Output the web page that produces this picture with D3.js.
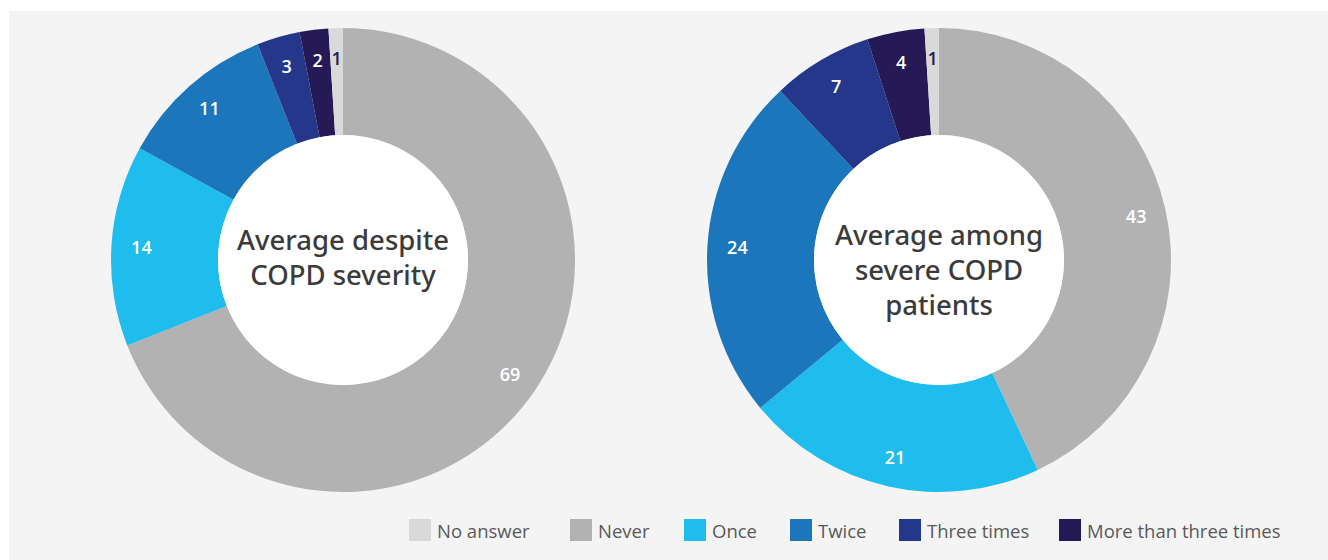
<!DOCTYPE html>
<html>
<head>
<meta charset="utf-8">
<script src="https://cdn.jsdelivr.net/npm/d3@7"></script>
<style>
  html, body { margin: 0; padding: 0; background: #ffffff; }
  svg { display: block; }
</style>
</head>
<body>
<svg id="chart" width="1328" height="560"></svg>
<script>
// ---- data ----
const categories = ["Never", "Once", "Twice", "Three times", "More than three times", "No answer"];
const legendOrder = ["No answer", "Never", "Once", "Twice", "Three times", "More than three times"];
const colors = ["#b2b2b2", "#1fbcee", "#1c76bb", "#24378a", "#261a56", "#d9d9d9"];
const averageAll = [69, 14, 11, 3, 2, 1];
const averageSevere = [43, 21, 24, 7, 4, 1];
const titleAll = ["Average despite", "COPD severity"];
const titleSevere = ["Average among", "severe COPD", "patients"];

const svg = d3.select("#chart");
svg.append("rect").attr("x", 9).attr("y", 11).attr("width", 1328 - 9).attr("height", 560 - 11)
  .attr("fill", "#f4f4f4");

const color = d3.scaleOrdinal().domain(categories).range(colors);
const outerR = 232, innerR = 125, labelR = 202;
const pie = d3.pie().sort(null).value(d => d.value);
const arc = d3.arc().innerRadius(innerR).outerRadius(outerR);
const labelArc = d3.arc().innerRadius(labelR).outerRadius(labelR);

function donut(cx, cy, values, title, titleY0) {
  const g = svg.append("g").attr("transform", `translate(${cx},${cy})`);
  const data = pie(categories.map((c, i) => ({ cat: c, value: values[i] })));
  g.selectAll("path.slice").data(data).join("path")
    .attr("class", "slice")
    .attr("d", arc)
    .attr("fill", d => color(d.data.cat));
  g.append("circle").attr("r", innerR).attr("fill", "#ffffff");
  g.selectAll("text.val").data(data).join("text")
    .attr("class", "val")
    .attr("transform", d => `translate(${labelArc.centroid(d)})`)
    .attr("text-anchor", "middle")
    .attr("dominant-baseline", "central")
    .attr("font-family", "'Open Sans', sans-serif")
    .attr("font-weight", 600)
    .attr("font-size", 18)
    .attr("fill", d => d.data.cat === "No answer" ? "#261a56" : "#ffffff")
    .text(d => d.data.value);
  const lh = 35;
  g.selectAll("text.title").data(title).join("text")
    .attr("class", "title")
    .attr("x", 0)
    .attr("y", (d, i) => titleY0 + i * lh)
    .attr("text-anchor", "middle")
    .attr("dominant-baseline", "central")
    .attr("font-family", "'Noto Sans', sans-serif")
    .attr("font-weight", 500)
    .attr("font-size", 27.5)
    .attr("fill", "#3b3b3b")
    .text(d => d);
}

donut(343, 260, averageAll, titleAll, -21);
donut(939, 260, averageSevere, titleSevere, -26);

// legend (item x positions are layout)
const legendX = [409, 570, 684, 790, 899, 1059];
const legend = svg.append("g");
legendOrder.forEach((name, i) => {
  const item = legend.append("g").attr("transform", `translate(${legendX[i]},519)`);
  item.append("rect").attr("width", 22).attr("height", 22).attr("fill", color(name));
  item.append("text")
    .attr("x", 28).attr("y", 11)
    .attr("dominant-baseline", "central")
    .attr("font-family", "'Open Sans', sans-serif")
    .attr("font-weight", 400)
    .attr("font-size", 18.5)
    .attr("fill", "#595959")
    .text(name);
});
</script>
</body>
</html>
